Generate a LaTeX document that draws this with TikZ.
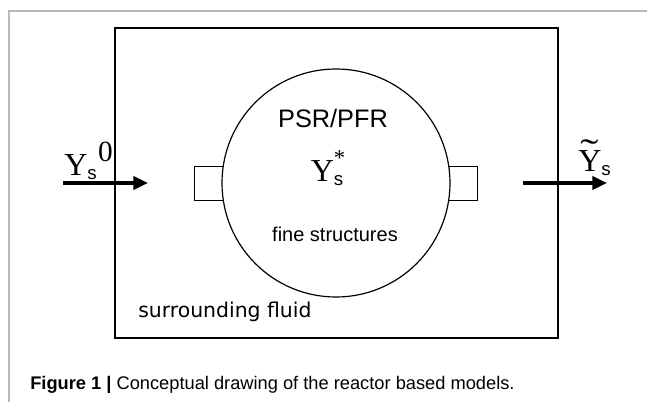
\documentclass[tikz,border=0pt]{standalone}
\usepackage{fontspec}
\setmainfont{Liberation Serif}
\setsansfont{Liberation Sans}
\newfontfamily\dejavu{DejaVu Sans}
\usetikzlibrary{arrows.meta}

\newcommand{\bigY}{\fontsize{24}{24}\selectfont}
\newcommand{\subs}{\lower3pt\hbox{\sffamily\fontsize{14}{14}\selectfont s}}
\newcommand{\tildeY}{\rlap{\kern1.5pt\raise6pt\hbox{\scalebox{1.7}[1.1]{˜}}}Y}

\begin{document}
\begin{tikzpicture}[x=0.75pt,y=-0.75pt,
    port/.style={draw,line width=0.7pt,minimum width=22pt,minimum height=26pt,inner sep=0},
    flow/.style={line width=2.3pt,-{Triangle[length=11pt,width=10pt]}}]
        \useasboundingbox (0,0) rectangle (647,402);
        \draw[gray!55,line width=1pt] (9,402) -- (9,11) -- (647,11);
        \draw[line width=1.5pt] (115,28) rectangle (558,338);
        \node[port] (inlet) at (209,183.5) {};
        \node[port] (outlet) at (463,183.5) {};
        \node[draw,circle,fill=white,line width=0.9pt,minimum size=171pt,inner sep=0] (reactor) at (336,183) {};
        \node[anchor=base,font=\sffamily\fontsize{19}{19}\selectfont] (kind) at (333,128) {PSR/PFR};
        \node[anchor=base,inner sep=0,font=\bigY] (ymid) at (328,182) {Y\rlap{\subs}\raise12pt\hbox{\fontsize{17}{17}\selectfont *}};
        \node[anchor=base,font=\sffamily\fontsize{15}{15}\selectfont] (fine) at (335,242) {fine structures};
        \node[anchor=base west,inner sep=0,font=\dejavu\fontsize{15.3}{15.3}\selectfont] (fluid) at (138,318) {surrounding fluid};
        \coordinate (feed) at (63,183);
        \coordinate (feedtip) at (148,183);
        \coordinate (exit) at (523,183);
        \coordinate (exittip) at (607,183);
        \draw[flow] (feed) -- (feedtip);
        \draw[flow] (exit) -- (exittip);
        \node[anchor=base west,inner sep=0,font=\bigY] (yin) at (64,176) {Y\subs\kern1pt\raise11pt\hbox{\fontsize{22}{22}\selectfont 0}};
        \node[anchor=base west,inner sep=0,font=\bigY] (yout) at (578,172) {\tildeY\subs};
        \node[anchor=base west,inner sep=0,font=\sffamily\fontsize{13.7}{13.7}\selectfont] (caption) at (30,390) {\textbf{Figure 1 |} Conceptual drawing of the reactor based models.};
\end{tikzpicture}
\end{document}
